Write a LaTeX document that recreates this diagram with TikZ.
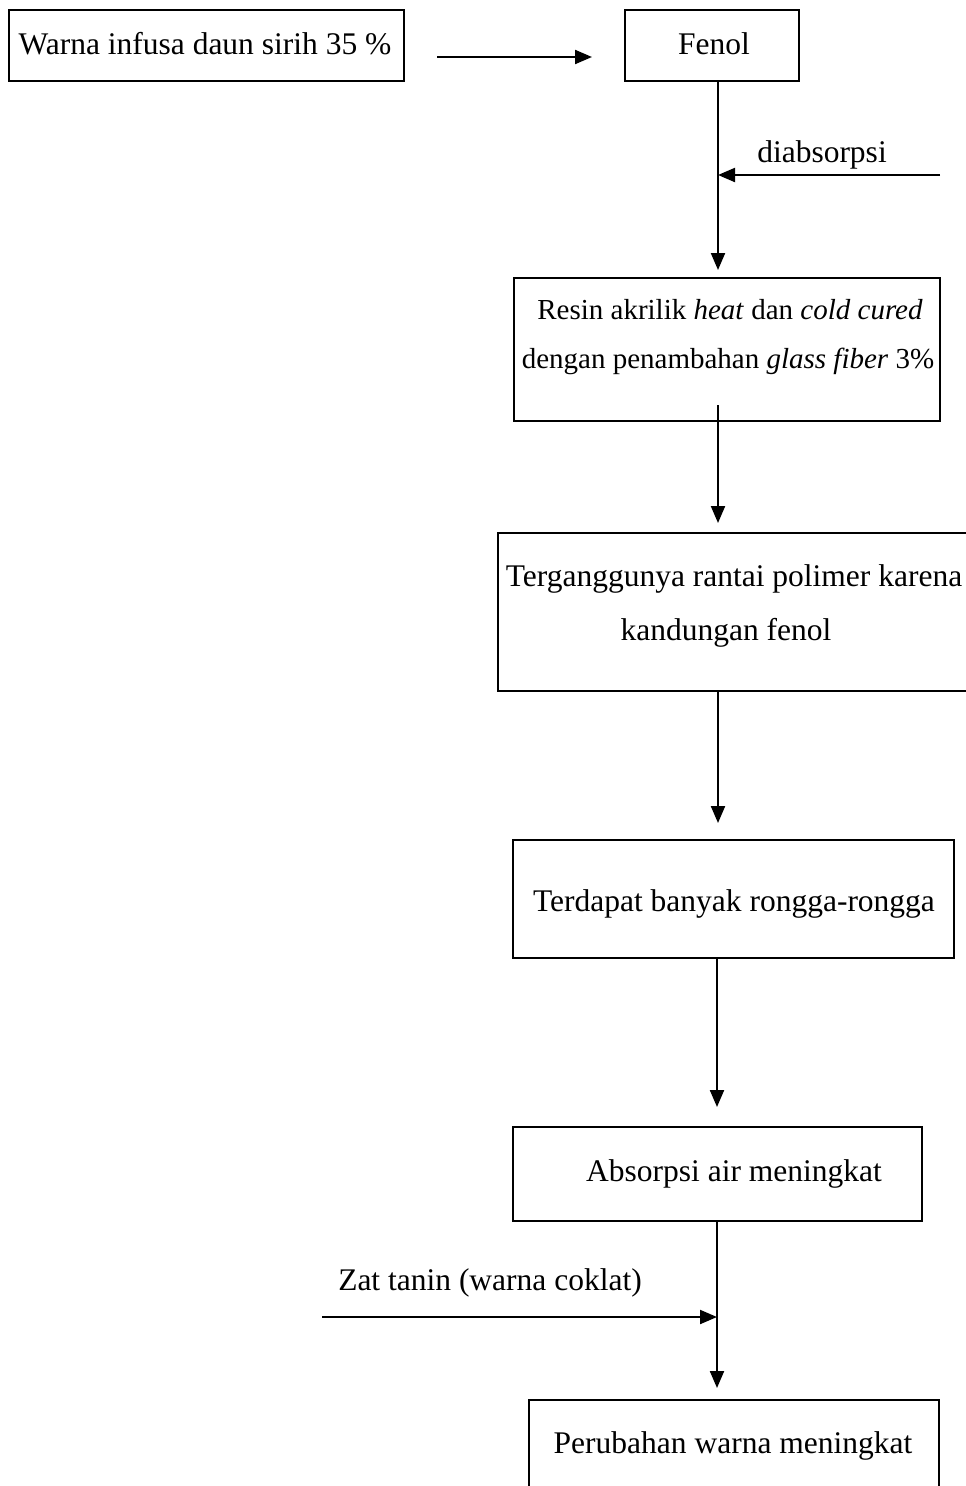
\documentclass[tikz,border=0pt]{standalone}
\usepackage{fontspec}
\setmainfont{Liberation Serif}
\usetikzlibrary{arrows.meta,calc}
\begin{document}
\begin{tikzpicture}[x=1pt,y=-1pt,
  box/.style={draw, line width=2.1pt, inner sep=0pt, anchor=north west},
  txt/.style={anchor=base, inner sep=0pt, font=\fontsize{31.5}{36}\selectfont},
  stxt/.style={anchor=base, inner sep=0pt, font=\fontsize{29}{34}\selectfont},
  arr/.style={line width=2.1pt, -{Triangle[length=17pt,width=14pt]}}]
\useasboundingbox (0,0) rectangle (966,1486);
\clip (0,0) rectangle (966,1486);
% boxes
\node[box, minimum width=395pt, minimum height=71pt] (warna) at (8,9) {};
\node[box, minimum width=174pt, minimum height=71pt] (fenol) at (624,9) {};
\node[box, minimum width=426pt, minimum height=143pt] (resin) at (513,277) {};
\node[box, minimum width=520pt, minimum height=158pt] (tergang) at (497,532) {};
\node[box, minimum width=441pt, minimum height=118pt] (terdapat) at (512,839) {};
\node[box, minimum width=409pt, minimum height=94pt] (absorpsi) at (512,1126) {};
\node[box, minimum width=410pt, minimum height=140pt] (perubahan) at (528,1399) {};
% texts
\node[txt] (t1) at (205,54) {Warna infusa daun sirih 35 \%};
\node[txt] (t2) at (714,54) {Fenol};
\node[txt] (t3) at (822,162) {diabsorpsi};
\node[stxt] (t4) at (730,319) {Resin akrilik \textit{heat} dan \textit{cold cured}};
\node[stxt] (t5) at (728,368) {dengan penambahan \textit{glass fiber} 3\%};
\node[txt] (t6) at (734,586) {Terganggunya rantai polimer karena};
\node[txt] (t7) at (726,640) {kandungan fenol};
\node[txt] (t8) at (734,911) {Terdapat banyak rongga-rongga};
\node[txt] (t9) at (734,1181) {Absorpsi air meningkat};
\node[txt] (t10) at (490,1290) {Zat tanin (warna coklat)};
\node[txt] (t11) at (733,1453) {Perubahan warna meningkat};
% coordinates
\coordinate (dstart) at (940,175);
\coordinate (djoin) at (718,175);
\coordinate (zstart) at (322,1317);
\coordinate (zjoin) at (717,1317);
\coordinate (rstart) at (718,405);
% connectors
\draw[arr, shorten <=32pt, shorten >=32pt] (warna.east |- 0,57) -- (fenol.west |- 0,57);
\draw[arr, shorten >=7pt] (fenol.south -| 718,0) -- (resin.north -| 718,0);
\draw[arr] (dstart) -- (djoin);
\draw[arr, shorten >=9pt] (rstart) -- (tergang.north -| 718,0);
\draw[arr, shorten >=16pt] (tergang.south -| 718,0) -- (terdapat.north -| 718,0);
\draw[arr, shorten >=19pt] (terdapat.south -| 717,0) -- (absorpsi.north -| 717,0);
\draw[arr, shorten >=11pt] (absorpsi.south -| 717,0) -- (perubahan.north -| 717,0);
\draw[arr] (zstart) -- (zjoin);
\end{tikzpicture}
\end{document}
